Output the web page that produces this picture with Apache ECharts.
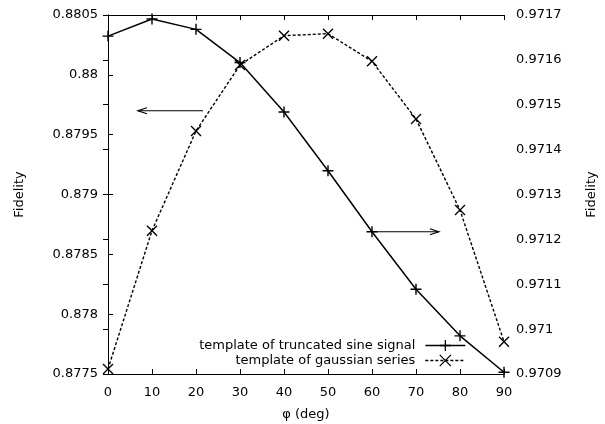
<!DOCTYPE html>
<html><head><meta charset="utf-8">
<script src="https://cdn.jsdelivr.net/npm/echarts@6/dist/echarts.min.js"></script>
<style>html,body{margin:0;padding:0;background:#fff}#c{width:605px;height:424px}</style>
</head><body><div id="c"></div>
<script>
// ---- data ----
const phi = [0, 10, 20, 30, 40, 50, 60, 70, 80, 90];
const sineValues = [0.971653, 0.971691, 0.971668, 0.971594, 0.971484, 0.971353, 0.971217, 0.971089, 0.970985, 0.970904];
const gaussValues = [0.877542, 0.878698, 0.879531, 0.880082, 0.880327, 0.880344, 0.880113, 0.879631, 0.878870, 0.877770];
const seriesNames = ['template of truncated sine signal', 'template of gaussian series'];
const xRange = [0, 90, 10];
const leftRange = [0.8775, 0.8805, 0.0005];
const rightRange = [0.9709, 0.9717, 0.0001];
const axisTitles = ['\u03c6 (deg)', 'Fidelity', 'Fidelity'];
// annotation arrows in data coordinates: [fromX, fromY, toX, toY, yAxisIndex]
const arrowLeft = [21.6, 0.8797, 6.8, 0.8797, 0];
const arrowRight = [60, 0.971217, 75.2, 0.971217, 1];

const FONT = 'DejaVu Sans';
const txt = {color: '#000', fontFamily: FONT, fontSize: 13};
const fmt = v => String(+(+v).toFixed(6));
const plusSym = 'path://M0,50L100,50M50,0L50,100';
const crossSym = 'path://M0,0L100,100M100,0L0,100';

const chart = echarts.init(document.getElementById('c'), null, {renderer: 'canvas'});
const baseAxis = {
  axisLine: {show: true, lineStyle: {color: '#000', width: 1}},
  axisTick: {show: true, inside: true, length: 5, lineStyle: {color: '#000', width: 1}},
  splitLine: {show: false},
  nameTextStyle: txt
};
chart.setOption({
  animation: false,
  backgroundColor: '#fff',
  grid: {left: 108, right: 101, top: 15, bottom: 50, containLabel: false, outerBoundsMode: 'none'},
  xAxis: [
    Object.assign({}, baseAxis, {type: 'value', position: 'bottom', min: xRange[0], max: xRange[1], interval: xRange[2],
      name: axisTitles[0], nameLocation: 'middle', nameGap: 34,
      axisLabel: Object.assign({margin: 12}, txt)}),
    Object.assign({}, baseAxis, {type: 'value', position: 'top', min: xRange[0], max: xRange[1], interval: xRange[2],
      axisLabel: {show: false}})
  ],
  yAxis: [
    Object.assign({}, baseAxis, {type: 'value', position: 'left', min: leftRange[0], max: leftRange[1], interval: leftRange[2],
      name: axisTitles[1], nameLocation: 'middle', nameGap: 82, nameRotate: 90,
      axisLabel: Object.assign({margin: 10, formatter: fmt}, txt)}),
    Object.assign({}, baseAxis, {type: 'value', position: 'right', min: rightRange[0], max: rightRange[1], interval: rightRange[2],
      name: axisTitles[2], nameLocation: 'middle', nameGap: 81, nameRotate: 90,
      axisLabel: Object.assign({margin: 12, formatter: fmt}, txt)})
  ],
  legend: {
    orient: 'vertical', align: 'right', right: 139, top: 339, padding: 0,
    itemWidth: 40, itemHeight: 14, itemGap: 2,
    textStyle: Object.assign({padding: [0, 5, 0, 0]}, txt),
    itemStyle: {borderWidth: 1.3, borderColor: '#000', color: '#000'},
    lineStyle: {width: 1.3},
    data: seriesNames
  },
  series: [
    {
      name: seriesNames[0], type: 'line', xAxisIndex: 0, yAxisIndex: 1,
      data: phi.map((x, i) => [x, sineValues[i]]),
      symbol: plusSym, symbolSize: 11, showAllSymbol: true,
      lineStyle: {color: '#000', width: 1.5, type: 'solid'},
      itemStyle: {color: '#000', borderColor: '#000', borderWidth: 1.4},
      z: 3
    },
    {
      name: seriesNames[1], type: 'line', xAxisIndex: 0, yAxisIndex: 0,
      data: phi.map((x, i) => [x, gaussValues[i]]),
      symbol: crossSym, symbolSize: 10, showAllSymbol: true,
      lineStyle: {color: '#000', width: 1.4, type: [3, 2]},
      itemStyle: {color: '#000', borderColor: '#000', borderWidth: 1.4},
      z: 2
    }
  ]
});

function arrowGraphics(a) {
  const p0 = chart.convertToPixel({xAxisIndex: 0, yAxisIndex: a[4]}, [a[0], a[1]]);
  const p1 = chart.convertToPixel({xAxisIndex: 0, yAxisIndex: a[4]}, [a[2], a[3]]);
  const dx = p1[0] - p0[0], dy = p1[1] - p0[1];
  const len = Math.sqrt(dx * dx + dy * dy);
  const ux = dx / len, uy = dy / len, nx = -uy, ny = ux;
  const L = 9, W = 3;
  const h1 = [p1[0] - L * ux + W * nx, p1[1] - L * uy + W * ny];
  const h2 = [p1[0] - L * ux - W * nx, p1[1] - L * uy - W * ny];
  const st = {stroke: '#000', lineWidth: 1.2, fill: null};
  return [
    {type: 'polyline', shape: {points: [p0, p1]}, style: st, silent: true, z: 10},
    {type: 'polyline', shape: {points: [h1, p1, h2]}, style: st, silent: true, z: 10}
  ];
}
chart.setOption({graphic: arrowGraphics(arrowLeft).concat(arrowGraphics(arrowRight))});
</script>
</body></html>
